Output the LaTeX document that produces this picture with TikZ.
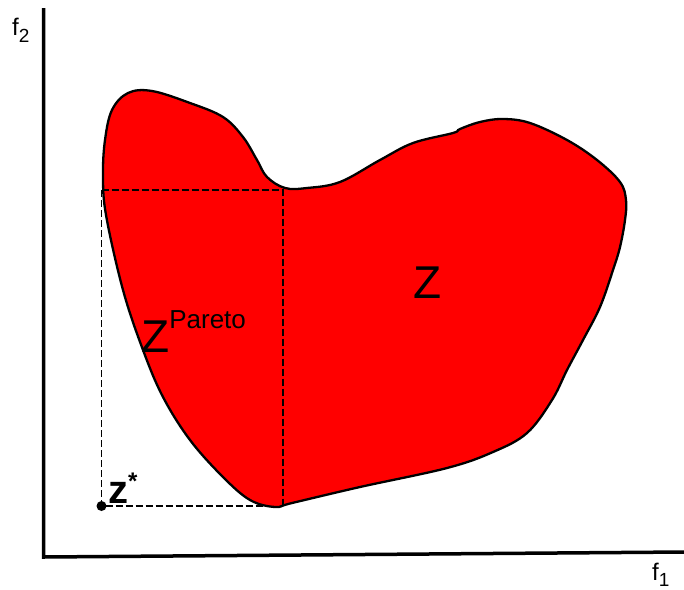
\documentclass[tikz,border=0pt]{standalone}
\usepackage{fontspec}
\setmainfont{Liberation Sans}
\definecolor{zred}{HTML}{FF0000}

\begin{document}
\begin{tikzpicture}[x=1pt, y=-1pt,
  axis/.style={line width=3.5pt},
  guide/.style={line width=1.3pt, dash pattern=on 7pt off 3pt},
  lbl/.style={font=\fontsize{24}{26}\selectfont, inner sep=0pt, anchor=base west},
  big/.style={font=\fontsize{46}{48}\selectfont, inner sep=0pt, anchor=base west}]
  \useasboundingbox (0,0) rectangle (684,589);
  % axes
  \coordinate (o) at (43.5,557);
  \coordinate (ytop) at (43.5,8);
  \coordinate (xend) at (684,552);
  \draw[axis] (ytop) -- (o) -- (xend);
  \node[lbl] (f2) at (12,35) {f\raisebox{-7pt}{\fontsize{19}{21}\selectfont 2}};
  \node[lbl] (f1) at (652,580) {f\raisebox{-6pt}{\fontsize{19}{21}\selectfont 1}};
  % objective region
  \draw[fill=zred, line width=2.3pt] plot[smooth cycle, tension=0.6] coordinates {
    (292,503) (360,487) (447,468) (493,452) (527,433) (552,400) (567,370)
    (583,340) (600,307) (613,270) (620,247) (625,220) (626,200) (620,182)
    (597,160) (567,140) (530,123) (503,119) (480,122) (460,129) (453,133)
    (413,143) (380,160) (340,182) (307,188) (285,188) (267,177) (257,160)
    (243,137) (223,117) (190,103) (152,91) (128,93) (112,110) (105,140)
    (103,175) (106,215) (123,290) (143,350) (163,397) (190,440)
    (223,477) (250,500) (275,507)};
  % ideal point and guides
  \coordinate (zs) at (101.5,506);
  \coordinate (ul) at (101.5,190);
  \coordinate (um) at (283,190);
  \coordinate (lm) at (283,505);
  \coordinate (lb) at (268,506);
  \draw[guide] (ul) -- (um) -- (lm);
  \draw[guide] (ul) -- (zs) -- (lb);
  \fill (zs) circle (5pt);
  \node[font=\bfseries\fontsize{40}{42}\selectfont, anchor=base west, inner sep=0pt] (zstar) at (108,503) {z\raisebox{14pt}{\fontsize{24}{26}\selectfont *}};
  \node[big] (Z) at (413,298) {Z};
  \node[big] (Zp) at (141,352) {Z\raisebox{24pt}{\fontsize{26}{28}\selectfont Pareto}};
\end{tikzpicture}
\end{document}
